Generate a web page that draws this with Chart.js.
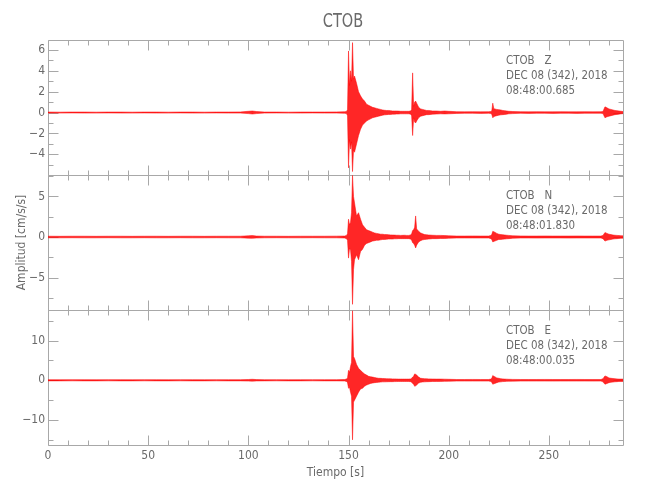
<!DOCTYPE html>
<html>
<head>
<meta charset="utf-8">
<script src="https://cdn.jsdelivr.net/npm/chart.js@4.4.1/dist/chart.umd.min.js"></script>
<style>
  body { margin: 0; background: #fff; }
  #wrap { width: 650px; height: 500px; }
</style>
</head>
<body>
<div id="wrap"><canvas id="sismo" width="650" height="500"></canvas></div>
<script>
// Sample times (s) shared by the three channels
const tiempo = [
  0, 6, 12, 18, 24, 30, 36, 42, 48, 54, 60, 66, 72, 78, 84, 90, 96, 100, 102, 104, 108, 114, 120, 126, 132, 138, 144, 148,
  149, 149.5, 150, 150.5, 151, 151.5, 152, 152.5, 153, 154, 155, 156, 157, 158, 159, 160, 161, 162, 163, 164, 165, 166, 167, 168, 169, 170,
  171, 172, 173, 174, 175, 176, 177, 178, 179, 180, 181, 181.5, 182, 182.5, 183, 183.5, 184, 185, 186, 187, 188, 189, 190,
  192, 194, 196, 198, 200, 204, 208, 212, 216, 220,
  221, 221.5, 222, 222.5, 223, 224, 225, 226, 227, 228, 229, 230, 232, 236, 240, 244, 248, 252, 256, 260, 264, 268, 272, 276,
  277, 278, 279, 280, 281, 282, 283, 284, 285, 286, 287
];

// Envelope of each channel (cm/s/s): positive and negative peaks
const zMax = [
  0.05, 0.04, 0.05, 0.05, 0.04, 0.05, 0.05, 0.04, 0.05, 0.05, 0.04, 0.05, 0.05, 0.04, 0.05, 0.05, 0.06, 0.12, 0.15, 0.1, 0.05, 0.05, 0.04, 0.05, 0.05, 0.05, 0.06, 0.08,
  0.1, 0.3, 5.9, 2.6, 4.0, 3.0, 6.7, 3.2, 3.5, 2.8, 2.0, 1.6, 1.3, 1.1, 0.8, 0.7, 0.6, 0.5, 0.45, 0.4, 0.35, 0.3, 0.25, 0.22, 0.2, 0.2,
  0.18, 0.15, 0.15, 0.15, 0.14, 0.12, 0.12, 0.12, 0.12, 0.12, 0.15, 0.3, 3.8, 0.6, 1.0, 1.1, 0.9, 0.5, 0.35, 0.3, 0.25, 0.2, 0.2,
  0.15, 0.15, 0.12, 0.15, 0.12, 0.08, 0.07, 0.08, 0.07, 0.08,
  0.1, 0.15, 0.9, 0.4, 0.35, 0.3, 0.28, 0.25, 0.2, 0.18, 0.15, 0.12, 0.1, 0.08, 0.07, 0.08, 0.07, 0.07, 0.08, 0.07, 0.07, 0.08, 0.07, 0.08,
  0.1, 0.55, 0.45, 0.35, 0.3, 0.25, 0.2, 0.18, 0.15, 0.12, 0.1
];
const zMin = [
  -0.05, -0.05, -0.04, -0.05, -0.05, -0.04, -0.05, -0.05, -0.04, -0.05, -0.05, -0.04, -0.05, -0.05, -0.04, -0.05, -0.05, -0.1, -0.14, -0.1, -0.05, -0.04, -0.05, -0.05, -0.04, -0.05, -0.05, -0.07,
  -0.1, -0.3, -5.3, -2.6, -3.5, -2.8, -5.65, -3.6, -3.8, -3.0, -2.2, -1.6, -1.2, -1.0, -0.8, -0.7, -0.6, -0.5, -0.45, -0.4, -0.35, -0.3, -0.25, -0.22, -0.2, -0.18,
  -0.18, -0.15, -0.15, -0.14, -0.14, -0.12, -0.12, -0.12, -0.12, -0.12, -0.15, -0.3, -2.2, -0.5, -0.9, -1.0, -0.8, -0.5, -0.35, -0.3, -0.25, -0.2, -0.2,
  -0.15, -0.14, -0.12, -0.13, -0.12, -0.08, -0.07, -0.07, -0.08, -0.07,
  -0.1, -0.15, -0.5, -0.4, -0.35, -0.3, -0.25, -0.22, -0.2, -0.18, -0.15, -0.12, -0.1, -0.07, -0.08, -0.07, -0.07, -0.08, -0.07, -0.07, -0.08, -0.07, -0.07, -0.07,
  -0.1, -0.5, -0.4, -0.35, -0.3, -0.25, -0.2, -0.18, -0.15, -0.12, -0.1
];

const nMax = [
  0.1, 0.09, 0.1, 0.1, 0.09, 0.1, 0.1, 0.09, 0.1, 0.1, 0.09, 0.1, 0.1, 0.09, 0.1, 0.1, 0.1, 0.15, 0.18, 0.12, 0.1, 0.1, 0.09, 0.1, 0.1, 0.1, 0.11, 0.12,
  0.2, 0.4, 2.2, 1.5, 1.8, 3.0, 7.6, 5.0, 4.2, 2.6, 3.0, 2.2, 1.5, 1.2, 0.9, 0.8, 0.7, 0.6, 0.5, 0.45, 0.4, 0.35, 0.35, 0.3, 0.3, 0.28,
  0.26, 0.25, 0.24, 0.22, 0.22, 0.2, 0.21, 0.22, 0.2, 0.2, 0.25, 0.4, 0.8, 0.9, 1.2, 2.6, 1.0, 0.7, 0.5, 0.4, 0.3, 0.28, 0.25,
  0.22, 0.2, 0.2, 0.18, 0.15, 0.12, 0.12, 0.13, 0.12, 0.12,
  0.2, 0.3, 0.7, 0.65, 0.6, 0.45, 0.35, 0.3, 0.28, 0.25, 0.22, 0.2, 0.15, 0.13, 0.12, 0.12, 0.13, 0.12, 0.12, 0.12, 0.13, 0.12, 0.12, 0.12,
  0.2, 0.55, 0.45, 0.35, 0.3, 0.25, 0.22, 0.2, 0.18, 0.16, 0.15
];
const nMin = [
  -0.1, -0.1, -0.09, -0.1, -0.1, -0.09, -0.1, -0.1, -0.09, -0.1, -0.1, -0.09, -0.1, -0.1, -0.09, -0.1, -0.1, -0.14, -0.16, -0.12, -0.1, -0.09, -0.1, -0.1, -0.09, -0.1, -0.1, -0.12,
  -0.2, -0.4, -2.6, -1.4, -1.6, -3.0, -8.3, -4.0, -2.8, -2.2, -2.8, -1.8, -1.5, -1.0, -0.8, -0.7, -0.6, -0.5, -0.45, -0.4, -0.4, -0.35, -0.3, -0.3, -0.28, -0.25,
  -0.25, -0.25, -0.22, -0.22, -0.2, -0.2, -0.2, -0.2, -0.2, -0.2, -0.25, -0.4, -0.7, -0.8, -1.0, -1.35, -1.0, -0.6, -0.45, -0.35, -0.3, -0.28, -0.25,
  -0.2, -0.2, -0.18, -0.18, -0.15, -0.12, -0.12, -0.12, -0.12, -0.12,
  -0.2, -0.3, -0.6, -0.55, -0.5, -0.4, -0.3, -0.3, -0.26, -0.25, -0.22, -0.2, -0.15, -0.12, -0.12, -0.13, -0.12, -0.12, -0.12, -0.13, -0.12, -0.12, -0.12, -0.12,
  -0.2, -0.5, -0.4, -0.35, -0.3, -0.25, -0.22, -0.2, -0.18, -0.16, -0.15
];

const eMax = [
  0.15, 0.14, 0.15, 0.15, 0.14, 0.15, 0.15, 0.14, 0.15, 0.15, 0.14, 0.15, 0.15, 0.14, 0.15, 0.15, 0.15, 0.2, 0.25, 0.18, 0.15, 0.15, 0.14, 0.15, 0.15, 0.15, 0.16, 0.2,
  0.3, 0.6, 2.5, 2.0, 3.5, 4.5, 17.5, 6.0, 5.5, 4.0, 3.0, 2.5, 2.0, 1.6, 1.3, 1.0, 0.9, 0.8, 0.7, 0.6, 0.5, 0.48, 0.45, 0.42, 0.4, 0.38,
  0.36, 0.35, 0.35, 0.33, 0.3, 0.3, 0.3, 0.3, 0.3, 0.3, 0.35, 0.5, 0.8, 1.0, 1.6, 1.5, 1.3, 0.8, 0.5, 0.45, 0.4, 0.38, 0.35,
  0.32, 0.3, 0.3, 0.28, 0.25, 0.2, 0.2, 0.21, 0.2, 0.2,
  0.3, 0.5, 1.2, 1.0, 0.9, 0.6, 0.5, 0.4, 0.35, 0.3, 0.28, 0.25, 0.22, 0.2, 0.2, 0.2, 0.21, 0.2, 0.2, 0.2, 0.21, 0.2, 0.2, 0.2,
  0.4, 1.1, 0.9, 0.6, 0.5, 0.45, 0.4, 0.35, 0.3, 0.3, 0.3
];
const eMin = [
  -0.15, -0.15, -0.14, -0.15, -0.15, -0.14, -0.15, -0.15, -0.14, -0.15, -0.15, -0.14, -0.15, -0.15, -0.14, -0.15, -0.15, -0.2, -0.22, -0.17, -0.15, -0.14, -0.15, -0.15, -0.14, -0.15, -0.15, -0.18,
  -0.3, -0.6, -2.0, -1.8, -3.0, -4.0, -15.0, -5.5, -5.0, -4.0, -3.0, -2.2, -2.0, -1.5, -1.2, -1.0, -0.8, -0.7, -0.6, -0.55, -0.5, -0.45, -0.4, -0.4, -0.38, -0.36,
  -0.35, -0.35, -0.33, -0.32, -0.3, -0.3, -0.3, -0.3, -0.3, -0.3, -0.35, -0.5, -0.8, -1.0, -1.5, -1.4, -1.2, -0.7, -0.5, -0.42, -0.4, -0.36, -0.35,
  -0.3, -0.3, -0.28, -0.27, -0.25, -0.2, -0.2, -0.2, -0.2, -0.2,
  -0.3, -0.5, -1.0, -0.9, -0.8, -0.6, -0.45, -0.4, -0.33, -0.3, -0.27, -0.25, -0.22, -0.2, -0.2, -0.2, -0.2, -0.21, -0.2, -0.2, -0.2, -0.2, -0.21, -0.2,
  -0.4, -1.0, -0.8, -0.6, -0.5, -0.45, -0.38, -0.35, -0.3, -0.3, -0.3
];

// Panel labels
const estacion = 'CTOB';
const canales = ['Z', 'N', 'E'];
const fechas = ['DEC 08 (342), 2018', 'DEC 08 (342), 2018', 'DEC 08 (342), 2018'];
const horas = ['08:48:00.685', '08:48:01.830', '08:48:00.035'];

const FONT = "'Liberation Sans Narrow', 'DejaVu Sans Condensed', 'Liberation Sans', sans-serif";
const TEXT = '#6a6a6a';
const AXIS = '#a8a8a8';

const points = vals => tiempo.map((t, i) => ({ x: t, y: vals[i] }));

const panels = [
  { axis: 'yZ', step: 2, minor: 1 },
  { axis: 'yN', step: 5, minor: 2.5 },
  { axis: 'yE', step: 10, minor: 5 }
];

const minus = v => (v < 0 ? '\u2212' + Math.abs(v) : String(v));

const yAxis = (min, max, step, withTitle) => ({
  type: 'linear',
  position: 'left',
  stack: 'sismo',
  stackWeight: 1,
  min: min,
  max: max,
  grid: { display: false, drawTicks: false },
  border: { display: false },
  ticks: { stepSize: step, autoSkip: false, includeBounds: false, padding: 3, color: TEXT, font: { family: FONT, size: 12 }, callback: minus },
  title: withTitle
    ? { display: true, text: 'Amplitud [cm/s/s]', color: TEXT, font: { family: FONT, size: 12 }, padding: { top: 15, bottom: 0 } }
    : { display: false },
  afterFit: s => { s.width = 48; }
});

// Frame, inward ticks, title and panel labels, like the original plot
const frameTicks = {
  id: 'frameTicks',
  beforeDatasetsDraw(chart) {
    const ctx = chart.ctx;
    const area = chart.chartArea;
    const xs = chart.scales.x;
    const L = Math.round(area.left) + 0.5;
    const R = Math.round(area.right) + 0.5;
    ctx.save();
    ctx.strokeStyle = AXIS;
    ctx.lineWidth = 1;
    panels.forEach(p => {
      const s = chart.scales[p.axis];
      const T = Math.round(s.top) + 0.5;
      const B = Math.round(s.bottom) + 0.5;
      ctx.beginPath();
      ctx.rect(L, T, R - L, B - T);
      for (let v = Math.ceil(s.min / p.minor) * p.minor; v <= s.max; v += p.minor) {
        const y = Math.round(s.getPixelForValue(v)) + 0.5;
        const len = Math.abs(v % p.step) < 1e-6 ? 10 : 5;
        ctx.moveTo(L, y); ctx.lineTo(L + len, y);
        ctx.moveTo(R, y); ctx.lineTo(R - len, y);
      }
      for (let v = 0; v <= xs.max; v += 10) {
        const x = Math.round(xs.getPixelForValue(v)) + 0.5;
        const len = v % 50 === 0 ? 10 : 5;
        ctx.moveTo(x, T); ctx.lineTo(x, T + len);
        ctx.moveTo(x, B); ctx.lineTo(x, B - len);
      }
      ctx.stroke();
    });
    ctx.restore();
  },
  afterDatasetsDraw(chart) {
    const ctx = chart.ctx;
    ctx.save();
    ctx.fillStyle = TEXT;
    ctx.textBaseline = 'middle';
    ctx.textAlign = 'center';
    ctx.font = '19px ' + FONT;
    ctx.save();
    ctx.translate(343, 22.5);
    ctx.scale(0.85, 1);
    ctx.fillText(estacion, 0, 0);
    ctx.restore();
    ctx.textAlign = 'left';
    ctx.font = '13px ' + FONT;
    panels.forEach((p, i) => {
      const s = chart.scales[p.axis];
      ctx.save();
      ctx.translate(506, s.top);
      ctx.scale(0.88, 1);
      ctx.fillText(estacion + '   ' + canales[i], 0, 21);
      ctx.fillText(fechas[i], 0, 35.5);
      ctx.fillText(horas[i], 0, 51);
      ctx.restore();
    });
    ctx.restore();
  }
};

// Upper envelope filled down to the lower one
const upper = (vals, axis) => ({
  data: points(vals),
  yAxisID: axis,
  borderColor: '#ff0000',
  backgroundColor: 'rgba(255, 0, 0, 0.85)',
  borderWidth: 0.5,
  pointRadius: 0,
  tension: 0,
  fill: '+1'
});
const lower = (vals, axis) => ({
  data: points(vals),
  yAxisID: axis,
  borderColor: '#ff0000',
  borderWidth: 0.5,
  pointRadius: 0,
  tension: 0,
  fill: false
});

new Chart(document.getElementById('sismo'), {
  type: 'line',
  data: {
    datasets: [
      upper(zMax, 'yZ'), lower(zMin, 'yZ'),
      upper(nMax, 'yN'), lower(nMin, 'yN'),
      upper(eMax, 'yE'), lower(eMin, 'yE')
    ]
  },
  options: {
    responsive: false,
    animation: false,
    parsing: false,
    normalized: true,
    layout: { padding: { left: 0, right: 27, top: 40, bottom: 15 } },
    plugins: {
      legend: { display: false },
      tooltip: { enabled: false },
      title: { display: false }
    },
    scales: {
      x: {
        type: 'linear',
        min: 0,
        max: 287,
        grid: { display: false, drawTicks: false },
        border: { display: false },
        ticks: { stepSize: 50, includeBounds: false, padding: 4, color: TEXT, font: { family: FONT, size: 12 } },
        title: { display: true, text: 'Tiempo [s]', color: TEXT, font: { family: FONT, size: 12 }, padding: { top: 4, bottom: 5 } },
        afterFit: s => { s.height = 40; }
      },
      // stacked axes are laid out bottom-up, so E comes first
      yE: yAxis(-16.3, 17.7, 10, false),
      yN: yAxis(-9.0, 7.65, 5, true),
      yZ: yAxis(-5.98, 6.95, 2, false)
    }
  },
  plugins: [frameTicks]
});
</script>
</body>
</html>
